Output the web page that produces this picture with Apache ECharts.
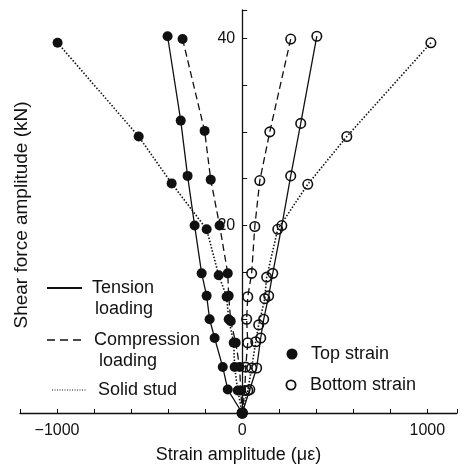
<!DOCTYPE html>
<html>
<head>
<meta charset="utf-8">
<script src="https://cdn.jsdelivr.net/npm/echarts@6/dist/echarts.min.js"></script>
<style>
  html, body { margin: 0; padding: 0; background: #fff; }
  #chart { width: 468px; height: 469px; }
</style>
</head>
<body>
<div id="chart"></div>
<script>
// Shear force amplitude (kN) against measured strain amplitude (microstrain)
// Top-strain gauges (filled markers) read negative, bottom-strain gauges (open markers) positive.

// Tension loading
const tensionTopStrain    = [-403, -332, -295, -257, -219, -192, -176, -149, -105, -78, 0];
const tensionTopLoad      = [40.2, 31.2, 25.3, 20.0, 14.9, 12.5, 10.0, 8.0, 4.9, 2.5, 0];
const tensionBottomStrain = [403, 316, 262, 214, 165, 143, 116, 100, 78, 41, 0];
const tensionBottomLoad   = [40.2, 30.9, 25.3, 20.0, 14.9, 12.5, 10.0, 8.0, 4.8, 2.5, 0];

// Compression loading
const compressionTopStrain    = [-322, -203, -170, -122, -78, -73, -62, -35, -14, -8, 0];
const compressionTopLoad      = [39.9, 30.1, 24.9, 20.0, 14.9, 12.5, 9.8, 7.5, 4.9, 2.4, 0];
const compressionBottomStrain = [262, 149, 95, 68, 51, 30, 24, 30, 19, 14, 0];
const compressionBottomLoad   = [39.9, 30.0, 24.8, 19.9, 14.9, 12.4, 10.0, 7.5, 4.9, 2.4, 0];

// Solid stud
const studTopStrain    = [-997, -559, -381, -192, -127, -84, -73, -46, -41, -24, 0];
const studTopLoad      = [39.5, 29.5, 24.5, 19.6, 14.7, 12.4, 10.0, 7.5, 4.9, 2.4, 0];
const studBottomStrain = [1019, 565, 354, 192, 132, 122, 89, 73, 51, 30, 0];
const studBottomLoad   = [39.5, 29.5, 24.4, 19.6, 14.5, 12.2, 9.4, 7.6, 4.8, 2.4, 0];

// Axis ticks that carry a label
const xTickLabels = { '-1000': '\u22121000', '0': '0', '1000': '1000' };
const yTickLabels = { '20': '20', '40': '40' };

const INK = '#111';
const FONT = "'Liberation Sans', Arial, Helvetica, sans-serif";

// strain range of the horizontal axis; the vertical axis is drawn at zero strain
const X_MIN = -1200, X_MAX = 1160;
const GRID = { left: 20, right: 11, top: 10, bottom: 51 };
const CHART_W = 468;
const plotW = CHART_W - GRID.left - GRID.right;
const yAxisShift = -plotW * (0 - X_MIN) / (X_MAX - X_MIN);

function pairs(xs, ys) { return xs.map((x, i) => [x, ys[i]]); }

const SOLID = 'solid';
const DASHED = [7, 4];
const DOTTED = [1.5, 1.8];

function makeSeries(name, xs, ys, dash, filled, lw) {
  return {
    name: name,
    type: 'line',
    data: pairs(xs, ys),
    symbol: 'circle',
    symbolSize: filled ? 10 : 9.5,
    showSymbol: true,
    lineStyle: { color: INK, width: lw, type: dash },
    itemStyle: filled
      ? { color: INK, borderColor: INK, borderWidth: 0 }
      : { color: 'rgba(255,255,255,0)', borderColor: INK, borderWidth: 1.6 },
    emphasis: { disabled: true },
    animation: false,
    z: filled ? 3 : 2
  };
}

const chart = echarts.init(document.getElementById('chart'), null, { renderer: 'canvas' });

chart.setOption({
  backgroundColor: '#fff',
  animation: false,
  grid: { left: GRID.left, right: GRID.right, top: GRID.top, bottom: GRID.bottom, containLabel: false },
  xAxis: {
    type: 'value',
    min: X_MIN, max: X_MAX, interval: 200,
    axisLine: { show: true, lineStyle: { color: INK, width: 1.3 } },
    axisTick: { show: true, inside: true, length: 4, lineStyle: { color: INK, width: 1 } },
    axisLabel: {
      color: INK, fontSize: 16, fontFamily: FONT, margin: 10,
      formatter: v => xTickLabels[String(v)] || ''
    },
    splitLine: { show: false },
    name: 'Strain amplitude (\u03bc\u03b5)',
    nameLocation: 'middle', nameGap: 33,
    nameTextStyle: { color: INK, fontSize: 18, fontFamily: FONT }
  },
  yAxis: {
    type: 'value',
    position: 'left',
    offset: yAxisShift,
    min: 0, max: 43, interval: 5,
    axisLine: { show: true, onZero: false, lineStyle: { color: INK, width: 1.3 } },
    axisTick: { show: true, inside: true, length: 5, lineStyle: { color: INK, width: 1 } },
    axisLabel: {
      color: INK, fontSize: 16, fontFamily: FONT, margin: 7,
      formatter: v => yTickLabels[String(v)] || ''
    },
    splitLine: { show: false }
  },
  series: [
    makeSeries('Tension top', tensionTopStrain, tensionTopLoad, SOLID, true, 1.3),
    makeSeries('Compression top', compressionTopStrain, compressionTopLoad, DASHED, true, 1.3),
    makeSeries('Stud top', studTopStrain, studTopLoad, DOTTED, true, 1.6),
    makeSeries('Tension bottom', tensionBottomStrain, tensionBottomLoad, SOLID, false, 1.3),
    makeSeries('Compression bottom', compressionBottomStrain, compressionBottomLoad, DASHED, false, 1.3),
    makeSeries('Stud bottom', studBottomStrain, studBottomLoad, DOTTED, false, 1.6)
  ],
  graphic: [
    // vertical axis title, kept at the left edge while the axis sits on x = 0
    {
      type: 'text', x: 22, y: 215, rotation: Math.PI / 2,
      style: { text: 'Shear force amplitude (kN)', fill: INK, fontSize: 19, fontFamily: FONT,
               textAlign: 'center', textVerticalAlign: 'middle' }
    },
    // line-style key
    { type: 'line', shape: { x1: 47, y1: 288, x2: 82, y2: 288 }, style: { stroke: INK, lineWidth: 2 } },
    { type: 'text', x: 92, y: 288, style: { text: 'Tension', fill: INK, fontSize: 18, fontFamily: FONT, textVerticalAlign: 'middle' } },
    { type: 'text', x: 95, y: 309, style: { text: 'loading', fill: INK, fontSize: 18, fontFamily: FONT, textVerticalAlign: 'middle' } },
    { type: 'line', shape: { x1: 47, y1: 340, x2: 82, y2: 340 }, style: { stroke: INK, lineWidth: 1.6, lineDash: [8, 5] } },
    { type: 'text', x: 94, y: 340, style: { text: 'Compression', fill: INK, fontSize: 18, fontFamily: FONT, textVerticalAlign: 'middle' } },
    { type: 'text', x: 99, y: 361, style: { text: 'loading', fill: INK, fontSize: 18, fontFamily: FONT, textVerticalAlign: 'middle' } },
    { type: 'line', shape: { x1: 52, y1: 390, x2: 87, y2: 390 }, style: { stroke: INK, lineWidth: 1, lineDash: [1, 1.5] } },
    { type: 'text', x: 98, y: 390, style: { text: 'Solid stud', fill: INK, fontSize: 18, fontFamily: FONT, textVerticalAlign: 'middle' } },
    // marker key
    { type: 'circle', shape: { cx: 292, cy: 354, r: 5.5 }, style: { fill: INK } },
    { type: 'text', x: 311, y: 354, style: { text: 'Top strain', fill: INK, fontSize: 18, fontFamily: FONT, textVerticalAlign: 'middle' } },
    { type: 'circle', shape: { cx: 291, cy: 385, r: 4.6 }, style: { fill: '#fff', stroke: INK, lineWidth: 1.8 } },
    { type: 'text', x: 310, y: 385, style: { text: 'Bottom strain', fill: INK, fontSize: 18, fontFamily: FONT, textVerticalAlign: 'middle' } }
  ]
});
</script>
</body>
</html>
